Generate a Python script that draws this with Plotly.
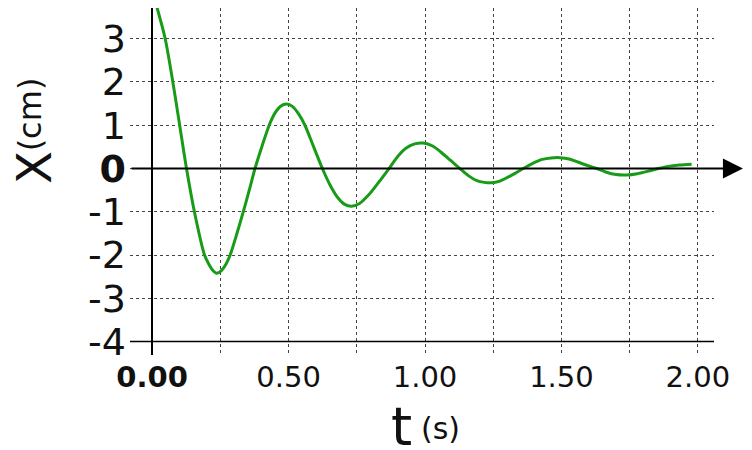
import plotly.graph_objects as go

# Data
t_s = [0.018, 0.048, 0.076, 0.101, 0.126, 0.155, 0.192, 0.207, 0.222, 0.237,
       0.254, 0.270, 0.286, 0.310, 0.334, 0.356, 0.377, 0.403, 0.429, 0.450,
       0.471, 0.493, 0.515, 0.538, 0.560, 0.592, 0.624, 0.652, 0.680, 0.706,
       0.731, 0.760, 0.792, 0.830, 0.868, 0.900, 0.930, 0.962, 0.994, 1.028,
       1.060, 1.095, 1.128, 1.160, 1.190, 1.217, 1.244, 1.274, 1.304, 1.333,
       1.360, 1.395, 1.430, 1.462, 1.495, 1.528, 1.560, 1.595, 1.629, 1.662,
       1.700, 1.739, 1.778, 1.818, 1.855, 1.892, 1.932, 1.977]
x_cm = [3.72, 3.0, 2.0, 1.0, 0.0, -1.0, -2.0, -2.2, -2.35, -2.42,
        -2.36, -2.22, -2.0, -1.52, -1.0, -0.5, 0.0, 0.52, 1.0, 1.28,
        1.44, 1.49, 1.43, 1.25, 1.0, 0.5, 0.0, -0.38, -0.67, -0.83,
        -0.87, -0.81, -0.62, -0.32, 0.0, 0.28, 0.47, 0.57, 0.59, 0.52,
        0.37, 0.18, 0.0, -0.17, -0.28, -0.32, -0.33, -0.29, -0.2, -0.1,
        0.0, 0.12, 0.21, 0.245, 0.25, 0.22, 0.15, 0.07, 0.0, -0.08,
        -0.14, -0.15, -0.12, -0.06, 0.0, 0.05, 0.08, 0.1]

x_tickvals = [0.0, 0.25, 0.5, 0.75, 1.0, 1.25, 1.5, 1.75, 2.0]
x_ticktext = ["<b>0.00</b>", "", "0.50", "", "1.00", "", "1.50", "", "2.00"]
y_tickvals = [-4, -3, -2, -1, 0, 1, 2, 3]
y_ticktext = ["-4", "-3", "-2", "-1", "<b>0</b>", "1", "2", "3"]

FONT = "DejaVu Sans"
GREEN = "#189c18"

fig = go.Figure()
fig.add_trace(go.Scatter(
    x=t_s, y=x_cm, mode="lines",
    line=dict(color=GREEN, width=3, shape="spline", smoothing=0.8),
    hoverinfo="skip", showlegend=False,
))

fig.update_layout(
    template="none",
    width=744, height=442,
    margin=dict(l=122, r=38, t=0, b=95, autoexpand=False),
    paper_bgcolor="white", plot_bgcolor="white",
    font=dict(family=FONT, color="black"),
    xaxis=dict(
        range=[-0.081, 2.059], tickvals=x_tickvals, ticktext=x_ticktext,
        tickfont=dict(size=29, family=FONT, color="#111"),
        showgrid=True, gridcolor="#444", griddash="dot", gridwidth=1,
        zeroline=True, zerolinecolor="black", zerolinewidth=2,
        showline=False, ticks="", ticklabelstandoff=2, automargin=False,
    ),
    yaxis=dict(
        range=[-4.31, 3.71], tickvals=y_tickvals, ticktext=y_ticktext,
        tickfont=dict(size=38, family=FONT, color="#111"),
        showgrid=True, gridcolor="#444", griddash="dot", gridwidth=1,
        zeroline=False, showline=False, ticks="", ticklabelstandoff=3,
        automargin=False,
    ),
)

# bottom axis line at the lowest tick
fig.add_shape(type="line", xref="paper", x0=0, x1=1, yref="y",
              y0=min(y_tickvals), y1=min(y_tickvals),
              line=dict(color="black", width=1.5), layer="above")

# horizontal zero axis with arrow
fig.add_annotation(x=2.165, y=0, xref="x", yref="y", ax=-0.081, ay=0,
                   axref="x", ayref="y", showarrow=True, arrowhead=2,
                   arrowsize=2, arrowwidth=2, arrowcolor="black", text="")

# axis titles
fig.add_annotation(text="X", xref="paper", yref="paper", x=-0.1654, y=0.5403,
                   textangle=-90, showarrow=False, xanchor="center", yanchor="middle",
                   font=dict(size=48, family=FONT, color="#111"))
fig.add_annotation(text="(cm)", xref="paper", yref="paper", x=-0.1715, y=0.693,
                   textangle=-90, showarrow=False, xanchor="center", yanchor="middle",
                   font=dict(size=32, family=FONT, color="#111"))
fig.add_annotation(text="t", xref="paper", yref="paper", x=0.4652, y=-0.2055,
                   showarrow=False, xanchor="center", yanchor="middle",
                   font=dict(size=54, family=FONT, color="#111"))
fig.add_annotation(text="(s)", xref="paper", yref="paper", x=0.5325, y=-0.2112,
                   showarrow=False, xanchor="center", yanchor="middle",
                   font=dict(size=30, family=FONT, color="#111"))

fig.write_html("out.html")
